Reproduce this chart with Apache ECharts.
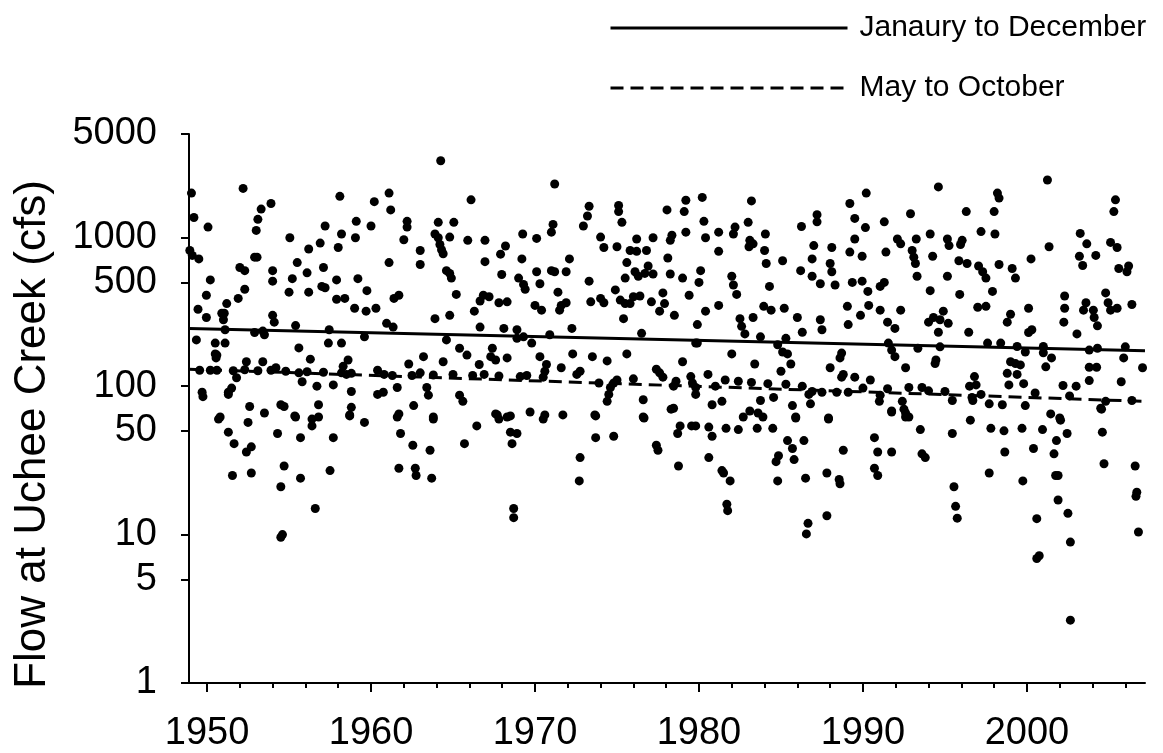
<!DOCTYPE html>
<html>
<head>
<meta charset="utf-8">
<script src="https://cdn.jsdelivr.net/npm/echarts@6/dist/echarts.min.js"></script>
<style>
html, body { margin: 0; padding: 0; background: #fff; }
#chart { width: 1163px; height: 753px; }
</style>
</head>
<body>
<div id="chart"></div>
<script>
// monthly flow points [year, cfs]
var flows1950s = [
    [1949.05,2000],[1949.2,1370],[1950.06,1180],[1948.95,820],[1949.1,760],[1949.5,720],[1950.2,520],[1949.96,410],
    [1949.45,330],[1949.96,290],[1949.35,205],[1950.5,195],[1950.6,162],[1950.5,165],[1950.55,155],[1949.55,128],
    [1950.6,128],[1951.1,195],[1950.9,310],[1951.05,310],[1951.2,360],[1951,280],[1951.1,240],[1952.2,2150],
    [1952,630],[1952.3,600],[1952.3,450],[1951.9,390],[1953,1120],[1953.1,1330],[1953.3,1560],[1953.9,1700],
    [1952.9,740],[1953.05,740],[1954,600],[1954,510],[1954,300],[1954.1,270],[1952.4,146],[1953.4,146],
    [1953.5,222],[1953.4,235],[1952.9,230],[1954.2,133],[1953.9,128],[1951.8,114],[1951.5,97],[1951.3,91],
    [1951.3,88],[1949.7,91],[1949.75,85],[1952.6,73],[1953.5,66],[1954.5,75],[1954.7,73],[1950.8,62],
    [1955.05,1000],[1955.5,680],[1955.2,530],[1955,430],[1955.4,256],[1955.6,181],[1956.2,840],[1956.3,152],
    [1956.1,580],[1956.2,430],[1956.9,920],[1957.1,630],[1957.2,1200],[1957,470],[1957.2,460],[1957.9,520],
    [1958,860],[1958.2,1060],[1958.1,1900],[1957.9,385],[1958.4,390],[1959.1,1290],[1959.05,1000],[1959.2,530],
    [1959.75,440],[1959,335],[1959.7,320],[1957.4,195],[1958.2,195],[1958.6,150],[1958.3,136],[1958.8,122],
    [1959.6,215],[1957.45,240],[1955.6,123],[1955.8,107],[1956.7,100],[1957.7,102],[1958.2,123],[1958.5,120],
    [1958.8,92],[1958.8,72],[1958.7,64],[1956.8,75],[1955.4,62],[1956.8,62],[1950.7,60],[1951.3,49],
    [1951.65,41],[1952.5,57],[1952.4,36],[1952.7,39],[1951.55,25],[1952.7,26],[1954.3,48],[1954.7,29],
    [1954.5,21],[1955.7,24],[1955.7,45],[1955.35,63],[1956.4,60],[1956.4,54],[1956.6,15],[1954.6,10],
    [1954.5,9.6],[1957.5,27],[1957.7,45],[1958.7,63],[1959.6,57],[1950.2,128],[1951.6,127],[1952.3,129],
    [1953.1,127],[1954.8,126],[1956.1,125],[1957.1,124]
];
var flows1960s = [
    [1960,1200],[1960.2,1750],[1960.3,335],[1960.4,88],[1960.4,128],[1964.25,3300],[1961.1,2000],[1961.2,1540],
    [1966.1,1800],[1962.2,1290],[1962.2,1180],[1962,970],[1963,820],[1961.1,680],[1963,660],[1964.1,1270],
    [1963.9,1060],[1964.1,1000],[1964.2,900],[1964.3,830],[1964.4,780],[1965.05,1270],[1964.8,1010],[1965.9,960],
    [1966.95,960],[1968.2,880],[1967.9,775],[1966.95,690],[1964.6,600],[1964.8,575],[1964.9,535],[1965.2,415],
    [1961.7,410],[1961.4,390],[1966.85,410],[1967.2,400],[1966.65,375],[1967.8,365],[1968.3,370],[1966.3,320],
    [1964.8,300],[1963.9,285],[1967.97,565],[1969.2,720],[1969,535],[1969.3,485],[1969.4,450],[1969.25,1060],
    [1960.95,265],[1961.35,250],[1964.6,205],[1965.4,180],[1965.85,162],[1966.65,250],[1968.1,245],[1968.9,240],
    [1968.9,210],[1969.3,215],[1969.8,195],[1967.4,180],[1967.3,158],[1967.6,150],[1968.3,155],[1966.6,140],
    [1963.2,158],[1964.4,146],[1962.3,141],[1963,123],[1960.8,120],[1961.3,118],[1962.5,118],[1963.8,119],
    [1965,120],[1966.2,118],[1966.9,120],[1967.8,117],[1969.1,116],[1969.5,118],[1962.6,74],[1961.6,98],
    [1960.75,91],[1963.4,98],[1963.5,87],[1965.4,87],[1965.6,79],[1963.8,62],[1961.6,62],[1967.7,64],
    [1968.3,62],[1969.7,67],[1961.7,65],[1963.8,60],[1961.8,48],[1962.55,40],[1963.6,37],[1961.7,28],
    [1962.7,28],[1962.75,25],[1963.7,24],[1965.7,41],[1966.45,54],[1967.6,65],[1967.8,60],[1968.5,63],
    [1968.5,49],[1968.9,48],[1968.6,41],[1968.7,15],[1968.7,13]
];
var flows1970s = [
    [1970.1,990],[1970.1,590],[1970.3,490],[1971,600],[1971.2,590],[1971.1,1230],[1971,1090],[1972.1,720],
    [1971.9,590],[1971.4,430],[1970,350],[1970.4,325],[1971.6,350],[1971.9,365],[1971.5,325],[1972.25,245],
    [1973.3,1630],[1973.2,1400],[1972.95,1200],[1974,1010],[1974.2,860],[1973.3,510],[1973.4,370],[1974,390],
    [1974.2,365],[1975.1,1650],[1975.1,1500],[1975.3,1270],[1975,870],[1974.9,445],[1975.2,380],[1975.5,360],
    [1975.8,820],[1976.2,810],[1976.8,820],[1976.2,980],[1977.2,1000],[1975.6,680],[1976.1,590],[1976.3,550],
    [1976.7,575],[1976.9,645],[1977.2,570],[1975.5,535],[1976,400],[1976.4,405],[1975.8,360],[1975.4,285],
    [1977.1,370],[1977.6,320],[1977.9,360],[1978.5,300],[1977.8,425],[1978.05,1540],[1979.2,1790],[1979.1,1500],
    [1978.35,1040],[1978.25,960],[1979.2,1090],[1978.1,730],[1978.25,570],[1979,535],[1979.4,410],[1976.5,227],
    [1971.2,2300],[1970.9,222],[1970.3,158],[1970.7,140],[1970.6,126],[1970.5,115],[1971.6,133],[1972.3,165],
    [1972.75,126],[1972.55,120],[1973.5,158],[1974.4,148],[1975.6,165],[1973.9,105],[1974.6,98],[1974.8,105],
    [1974.5,88],[1974.4,79],[1976.6,81],[1977.4,130],[1977.6,123],[1977.8,115],[1978.45,100],[1979,146],
    [1979.8,195],[1979.5,116],[1979.6,105],[1979.8,88],[1978.45,71],[1976.6,62],[1973.65,64],[1971.7,64],
    [1970.6,64],[1976,112],[1975,110],[1978.6,108],[1970.5,60],[1973.7,63],[1973.7,45],[1974.8,46],
    [1972.75,33],[1972.7,23],[1976.65,61],[1977.4,40],[1977.5,37],[1978.85,54],[1978.7,48],[1979.55,54],
    [1978.75,29],[1978.3,70]
];
var flows1980s = [
    [1980.2,1870],[1983.2,1770],[1980.3,1290],[1980.4,1000],[1981.2,1090],[1982.2,1180],[1982.1,1060],[1983,1270],
    [1983.1,960],[1983.3,910],[1983.05,870],[1984.05,1060],[1984,820],[1981.2,810],[1984.1,670],[1985.1,700],
    [1980.1,600],[1980,500],[1982,550],[1982.1,480],[1982.3,415],[1984.3,470],[1981.2,350],[1980.4,320],
    [1979.9,260],[1982.5,285],[1982.6,253],[1982.8,225],[1983.3,290],[1983.95,345],[1984.4,325],[1985.2,335],
    [1986,290],[1986.3,231],[1986.2,600],[1986.25,1190],[1987.2,1430],[1987.2,1280],[1987,885],[1988.1,860],
    [1986.9,720],[1988,670],[1988.1,590],[1986.9,550],[1987.4,490],[1988.3,480],[1987.4,280],[1987.5,240],
    [1989.2,1700],[1989.5,1350],[1989.5,980],[1989.2,800],[1989.95,750],[1989.35,500],[1989.95,510],[1989.05,345],
    [1989.1,260],[1989.85,300],[1979.9,195],[1982,165],[1983.4,141],[1984.8,190],[1985.1,170],[1985.4,165],
    [1985.6,141],[1985,126],[1983.75,215],[1985.3,210],[1980.55,120],[1981,100],[1979.8,98],[1980.8,75],
    [1981.4,79],[1982.7,62],[1983.6,66],[1983.75,80],[1984.55,84],[1985.7,74],[1985.9,62],[1986.8,76],
    [1986.7,88],[1986.9,92],[1987.5,91],[1987.9,61],[1988,133],[1988.6,155],[1988.7,167],[1988.8,120],
    [1988.7,115],[1988.4,91],[1989.1,91],[1989.5,115],[1981.6,110],[1982.4,108],[1983.2,106],[1984.2,104],
    [1985.3,103],[1986.3,100],[1980.6,53],[1980.8,46],[1979.8,54],[1981.65,52],[1982.4,51],[1983.55,52],
    [1984.5,52],[1985.9,61],[1980.6,33],[1981.4,27],[1981.5,26],[1981.9,23],[1981.7,16],[1981.75,14.5],
    [1985.4,43],[1985.7,38],[1986.4,43],[1984.85,34],[1984.7,31],[1985.8,32],[1984.8,23],[1986.5,24],
    [1986.65,11.9],[1986.55,10.1],[1987.8,26],[1987.8,13.4],[1987.9,60],[1988.55,23.5],[1988.6,22],[1988.8,37],
    [1983.1,68],[1983.9,62]
];
var flows1990s = [
    [1990.2,2000],[1990.15,1170],[1990.3,435],[1990.35,350],[1991.05,325],[1991.05,470],[1991.3,500],[1991.3,1280],
    [1991.4,800],[1991.5,270],[1991.95,245],[1992.3,325],[1992.9,1450],[1992.1,980],[1992.3,910],[1993.25,980],
    [1993,820],[1993.1,740],[1993.2,670],[1993.3,550],[1994.1,440],[1994.1,1060],[1994.25,750],[1994.6,2200],
    [1995.15,980],[1995.25,885],[1996.05,960],[1995.95,900],[1995.15,550],[1995.85,700],[1996.35,670],[1995.9,415],
    [1994,270],[1994.3,290],[1994.7,280],[1995.2,265],[1994.9,320],[1994.6,231],[1996.45,231],[1996.3,1500],
    [1997.2,1100],[1998.05,1060],[1998,1500],[1998.2,2000],[1998.3,1850],[1997.05,645],[1997.3,590],[1997.5,535],
    [1998.3,660],[1997.9,435],[1997,340],[1997.5,345],[1999,305],[1998.8,270],[1999.1,620],[1999.3,535],
    [1990.45,110],[1991,79],[1991.05,87],[1991.55,195],[1991.75,175],[1991.95,158],[1993.35,180],[1992.6,133],
    [1991.75,68],[1992.4,79],[1992.5,70],[1992.6,62],[1992.8,98],[1993.6,98],[1994.4,142],[1994.45,150],
    [1994.7,184],[1995.45,80],[1996.7,80],[1996.65,84],[1996.5,100],[1996.8,116],[1996.9,102],[1997.6,195],
    [1998.4,195],[1997.7,76],[1998.5,75],[1999,146],[1998.8,122],[1998.9,102],[1999.4,185],[1999.9,170],
    [1999.3,142],[1999.6,139],[1999.4,120],[1999.8,104],[1999.9,74],[1990,97],[1991.5,96],[1994,93],
    [1995,92],[1997.2,88],[1990.7,45],[1990.9,36],[1990.7,28],[1990.9,25],[1991.75,36],[1991.75,67],
    [1992.6,66],[1992.8,62],[1993.5,51],[1993.6,35],[1993.8,33],[1995.45,48],[1996.55,59],[1995.55,21],
    [1995.65,15.5],[1995.75,12.9],[1997.7,26],[1997.8,52],[1998.6,50],[1998.65,36],[1999.7,52],[1999.75,23]
];
var flows2000s = [
    [2001.25,2450],[2005.4,1800],[2005.3,1500],[2001.35,870],[2000.25,720],[2003.25,1070],[2003.65,910],[2003.2,750],
    [2003.4,650],[2004.2,760],[2005.1,930],[2005.5,860],[2005.6,620],[2006.1,590],[2006.2,645],[2002.3,405],
    [2002.3,335],[2002.25,270],[2003.6,365],[2003.45,325],[2004.05,325],[2004.1,290],[2004.3,255],[2004.8,425],
    [2004.95,365],[2005.1,325],[2005.5,335],[2006.4,355],[2000.1,335],[2000.3,240],[2000.1,230],[2003.05,225],
    [2001,185],[2001,168],[2001.5,155],[2001.15,135],[2003.8,175],[2004.3,180],[2006,184],[2005.9,155],
    [2007.05,133],[2003.8,134],[2004.25,134],[2002.2,101],[2003,100],[2003.8,109],[2005.75,107],[2001.45,65],
    [2002,61],[2004.5,71],[2004.8,79],[2000.5,90],[2002.6,86],[2006.4,80],[2000.4,38],[2000.6,12.8],
    [2000.75,7.2],[2000.6,6.9],[2002.05,59],[2000.95,51],[2001.8,43],[2001.65,35],[2001.9,25],[2001.75,25],
    [2001.9,17.1],[2002.45,48],[2002.5,13.9],[2002.65,8.9],[2002.65,2.65],[2004.55,70],[2004.6,49],[2004.7,30],
    [2006.6,29],[2006.7,19.3],[2006.65,18.1],[2006.8,10.4]
];

// trend lines (end points read at the axis ends)
var allYearTrend = [[1948.9, 245], [2007.2, 173]];
var mayOctTrend = [[1948.9, 130], [2007.2, 79]];

var yTicks = [1, 5, 10, 50, 100, 500, 1000, 5000];
var xLabelYears = [1950, 1960, 1970, 1980, 1990, 2000];
var xTickYears = [1950, 1952, 1954, 1956, 1958, 1960, 1962, 1964, 1966, 1968, 1970, 1972, 1974, 1976, 1978,
    1980, 1982, 1984, 1986, 1988, 1990, 1992, 1994, 1996, 1998, 2000, 2002, 2004, 2006];

var allFlows = flows1950s.concat(flows1960s, flows1970s, flows1980s, flows1990s, flows2000s);
var font = 'Liberation Sans, Arial, sans-serif';
var yMax = Math.log10(5000);

var chart = echarts.init(document.getElementById('chart'));
var option = {
    animation: false,
    backgroundColor: '#fff',
    grid: { left: 189, right: 18, top: 134, bottom: 68 },
    legend: {
        orient: 'vertical',
        left: 604,
        top: 6,
        itemWidth: 237,
        itemHeight: 4,
        itemGap: 26,
        selectedMode: false,
        itemStyle: { opacity: 0 },
        lineStyle: { width: 3 },
        textStyle: { fontFamily: font, fontSize: 30, color: '#000', lineHeight: 34, padding: [0, 0, 0, 7] },
        data: ['Janaury to December', 'May to October']
    },
    xAxis: [
        {
            type: 'value', min: 1948.9, max: 2007.2,
            axisLine: { lineStyle: { color: '#000', width: 2 } },
            axisTick: { customValues: xTickYears, length: 5, lineStyle: { color: '#000', width: 2 } },
            axisLabel: {
                customValues: xLabelYears, fontFamily: font, fontSize: 38, color: '#000', margin: 32,
                formatter: function (v) { return String(v); }
            },
            splitLine: { show: false }
        },
        {
            type: 'value', min: 1948.9, max: 2007.2, position: 'bottom',
            axisLine: { show: false },
            axisTick: { customValues: xLabelYears, length: 9, lineStyle: { color: '#000', width: 2 } },
            axisLabel: { show: false },
            splitLine: { show: false }
        }
    ],
    yAxis: [
        {
            type: 'log', min: 1, max: 5000, show: false
        },
        {
            type: 'value', min: 0, max: yMax, position: 'left',
            name: 'Flow at Uchee Creek (cfs)',
            nameLocation: 'middle',
            nameGap: 134,
            nameTextStyle: { fontFamily: font, fontSize: 44, color: '#000', padding: [0, 52, 0, 0] },
            axisLine: { show: true, lineStyle: { color: '#000', width: 2 } },
            axisTick: { show: true, customValues: yTicks.map(Math.log10), length: 8, lineStyle: { color: '#000', width: 2 } },
            axisLabel: {
                customValues: yTicks.map(Math.log10),
                fontFamily: font, fontSize: 38, color: '#000', margin: 32,
                formatter: function (v) { return String(Math.round(Math.pow(10, v))); }
            },
            splitLine: { show: false }
        }
    ],
    series: [
        {
            name: 'flows',
            type: 'scatter',
            xAxisIndex: 0,
            yAxisIndex: 0,
            symbolSize: 9,
            itemStyle: { color: '#000', opacity: 1 },
            emphasis: { disabled: true },
            data: allFlows
        },
        {
            name: 'Janaury to December',
            type: 'line',
            xAxisIndex: 0,
            yAxisIndex: 0,
            symbol: 'none',
            lineStyle: { color: '#000', width: 3, type: 'solid' },
            itemStyle: { color: '#000' },
            data: allYearTrend
        },
        {
            name: 'May to October',
            type: 'line',
            xAxisIndex: 0,
            yAxisIndex: 0,
            symbol: 'none',
            lineStyle: { color: '#000', width: 3, type: [13, 7] },
            itemStyle: { color: '#000' },
            data: mayOctTrend
        }
    ]
};
chart.setOption(option);
</script>
</body>
</html>
